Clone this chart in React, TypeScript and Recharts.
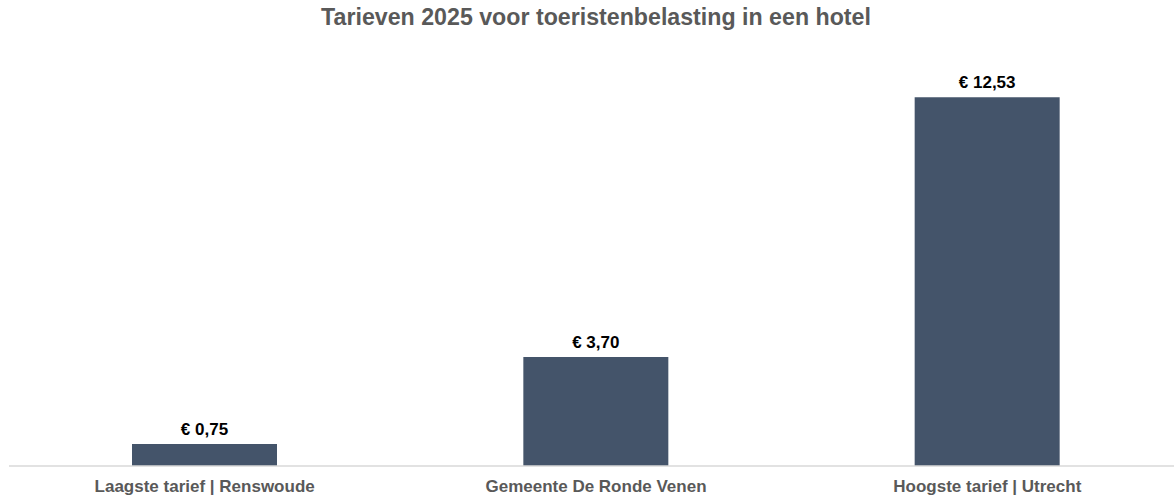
import React from 'react';
import { BarChart, Bar, XAxis, YAxis, LabelList } from 'recharts';

const categories = ['Laagste tarief | Renswoude', 'Gemeente De Ronde Venen', 'Hoogste tarief | Utrecht'];
const values = [0.75, 3.7, 12.53];

const data = categories.map((name, i) => ({ name, value: values[i] }));

const fmt = (v: number) => '€ ' + v.toFixed(2).replace('.', ',');

const FONT = '"Liberation Sans", Arial, sans-serif';

export default function App() {
  return (
    <div style={{ position: 'absolute', left: 0, top: 0, width: 1174, height: 497, overflow: 'hidden', background: '#fff', fontFamily: FONT }}>
      <div style={{ position: 'absolute', left: 0, top: 4, width: 1192, textAlign: 'center', fontSize: 23.2, fontWeight: 'bold', color: '#595959' }}>
        Tarieven 2025 voor toeristenbelasting in een hotel
      </div>
      <BarChart
        width={1192}
        height={497}
        data={data}
        margin={{ top: 54, right: 9, bottom: 0, left: 9 }}
        style={{ position: 'absolute', left: 0, top: 0 }}
      >
        <XAxis
          dataKey="name"
          height={31}
          axisLine={{ stroke: '#D9D9D9', strokeWidth: 1.5 }}
          tickLine={false}
          tick={{ fill: '#595959', fontSize: 17, fontWeight: 'bold', fontFamily: FONT }}
          tickMargin={8}
          interval={0}
        />
        <YAxis hide domain={[0, 14]} />
        <Bar dataKey="value" fill="#44546A" barSize={145} isAnimationActive={false}>
          <LabelList
            dataKey="value"
            position="top"
            offset={9}
            formatter={(v: any) => fmt(Number(v))}
            style={{ fill: '#000', fontSize: 17, fontWeight: 'bold', fontFamily: FONT }}
          />
        </Bar>
      </BarChart>
    </div>
  );
}
